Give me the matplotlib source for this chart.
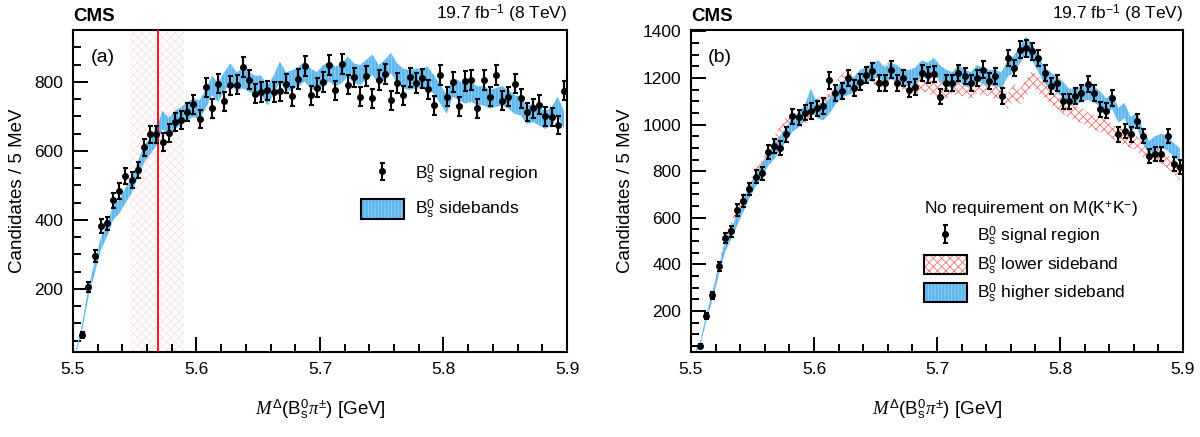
import numpy as np
import matplotlib
matplotlib.use("Agg")
import matplotlib.pyplot as plt
from matplotlib.patches import Patch
from matplotlib.ticker import MultipleLocator

plt.rcParams['font.family'] = ['Liberation Sans', 'DejaVu Sans']
plt.rcParams['mathtext.fontset'] = 'custom'
plt.rcParams['mathtext.rm'] = 'Liberation Sans'
plt.rcParams['mathtext.it'] = 'Liberation Serif:italic'
plt.rcParams['mathtext.bf'] = 'Liberation Sans:bold'
plt.rcParams['hatch.linewidth'] = 0.6

# bin centres, 5 MeV bins from 5.5 to 5.9 GeV
edges = np.arange(5.5, 5.9001, 0.005)
centres = 0.5 * (edges[1:] + edges[:-1])

# (a) signal region, first bin empty
sig_a = [66, 206, 296, 382, 390, 457, 484, 527, 515, 544,
         610, 648, 648, 626, 652, 684, 689, 713, 735, 692,
         784, 723, 795, 744, 790, 792, 842, 807, 766, 771,
         776, 771, 773, 795, 758, 808, 846, 761, 783,
         800, 848, 776, 853, 792, 813, 757, 818, 752, 805,
         822, 747, 797, 761, 813, 797, 810, 779, 732, 819,
         757, 800, 729, 802, 805, 723, 805, 757, 821, 745,
         757, 795, 752, 713, 723, 734, 700, 698, 674, 774]
# (a) sidebands
sb_a = [20, 90, 190, 260, 330, 370, 420, 440, 470, 500,
        545, 590, 615, 640, 690, 670, 690, 700, 715, 725,
        720, 750, 790, 770, 800, 825, 800, 810, 800, 790,
        790, 760, 790, 830, 800, 805, 815, 830, 810, 800,
        820, 830, 815, 825, 845, 825, 820, 835, 850, 820,
        835, 855, 825, 810, 805, 810, 810, 815, 790, 765,
        735, 785, 775, 765, 770, 760, 760, 750, 755, 760,
        750, 735, 730, 705, 710, 700, 690, 700, 730, 690]

# (b) signal region
sig_b = [50, 179, 267, 391, 513, 542, 633, 673, 723, 776,
         790, 884, 908, 901, 958, 1036, 1032, 1050, 1058, 1069,
         1079, 1189, 1136, 1143, 1200, 1157, 1181, 1214, 1228, 1179,
         1179, 1236, 1179, 1200, 1150, 1160, 1221, 1214, 1217, 1120,
         1179, 1179, 1221, 1207, 1179, 1200, 1236, 1186, 1207, 1122,
         1285, 1243, 1321, 1328, 1314, 1285, 1221, 1164, 1179, 1100,
         1100, 1122, 1136, 1172, 1136, 1065, 1060, 1115, 958, 972,
         958, 1015, 951, 865, 875, 875, 951, 830, 818]
# (b) higher sideband
hi_b = [15, 60, 170, 265, 370, 470, 530, 590, 650, 710,
        760, 800, 850, 880, 920, 960, 1000, 1020, 1050, 1120,
        1060, 1050, 1080, 1120, 1150, 1160, 1170, 1200, 1210, 1230,
        1240, 1210, 1230, 1220, 1200, 1200, 1210, 1240, 1230, 1250,
        1220, 1200, 1190, 1220, 1200, 1190, 1220, 1210, 1200, 1200,
        1190, 1240, 1260, 1300, 1340, 1310, 1260, 1210, 1190, 1170,
        1150, 1120, 1120, 1130, 1140, 1130, 1110, 1080, 1100, 1040,
        1060, 1000, 1020, 950, 900, 920, 930, 920, 890, 870]
# (b) lower sideband
lo_b = [15, 60, 170, 270, 380, 490, 560, 620, 680, 730,
        780, 820, 870, 920, 960, 1000, 1020, 1010, 1030, 1060,
        1080, 1090, 1100, 1150, 1180, 1200, 1180, 1200, 1220, 1210,
        1200, 1220, 1240, 1200, 1180, 1190, 1160, 1180, 1170, 1150,
        1160, 1140, 1170, 1150, 1160, 1140, 1170, 1150, 1160, 1140,
        1150, 1100, 1140, 1120, 1160, 1200, 1170, 1150, 1120, 1100,
        1080, 1060, 1050, 1040, 1020, 1010, 1000, 990, 970, 960,
        940, 930, 920, 890, 880, 870, 860, 840, 820, 790]

blue_face = '#5cb6ec'
blue_hatch = '#9ad4f6'
red_hatch = '#f07070'

fig = plt.figure(figsize=(12, 4.37), dpi=100)
ax1 = fig.add_axes([0.0608, 0.195, 0.4117, 0.736])
ax2 = fig.add_axes([0.5758, 0.195, 0.41, 0.736])


def band(ax, vals, face, hcol, hatch):
    v = np.array(vals, dtype=float)
    err = np.sqrt(v)
    ax.fill_between(centres, v - err, v + err, facecolor=face, edgecolor=hcol,
                    hatch=hatch, linewidth=0, zorder=2)


def style(ax, ymin, ymax):
    ax.set_xlim(5.5, 5.9)
    ax.set_ylim(ymin, ymax)
    ax.xaxis.set_major_locator(MultipleLocator(0.1))
    ax.xaxis.set_minor_locator(MultipleLocator(0.02))
    ax.yaxis.set_major_locator(MultipleLocator(200))
    ax.yaxis.set_minor_locator(MultipleLocator(50))
    ax.tick_params(which='both', direction='in', top=False, right=False, labelsize=12.5, width=1.4)
    ax.tick_params(which='major', length=11, pad=7)
    ax.tick_params(which='minor', length=5.5)
    for s in ax.spines.values():
        s.set_linewidth(1.5)
    ax.set_ylabel('Candidates / 5 MeV', fontsize=13.5, labelpad=6)
    ax.set_xlabel(r'$M^{\Delta}$(B$_\mathrm{s}^{0}\pi^{\pm}$) [GeV]', fontsize=13.5, labelpad=15)
    ax.text(0.0, 1.015, 'CMS', transform=ax.transAxes, fontsize=13.5, fontweight='bold',
            ha='left', va='bottom')
    ax.text(1.0, 1.015, r'19.7 fb$^{-1}$ (8 TeV)', transform=ax.transAxes, fontsize=12.5,
            ha='right', va='bottom')


# ---- panel (a)
ax1.axvspan(5.546, 5.590, facecolor='none', edgecolor='#fbe2e2', hatch='xxxx', linewidth=0, zorder=1)
band(ax1, sb_a, blue_face, blue_hatch, '|||||')
ax1.axvline(5.5686, color='red', lw=1.3, zorder=3)
sa = np.array(sig_a, dtype=float)
h_sig = ax1.errorbar(centres[1:], sa, yerr=np.sqrt(sa), fmt='o', color='black', ms=4,
                     elinewidth=1.5, capsize=1.8, capthick=1.5, zorder=4)
style(ax1, 18, 950)
ax1.text(0.035, 0.94, '(a)', transform=ax1.transAxes, fontsize=14, ha='left', va='top')

blue_handle = (Patch(facecolor=blue_face, edgecolor=blue_hatch, hatch='|||||', lw=0),
               Patch(fill=False, edgecolor='black', lw=1.5))
ax1.legend([h_sig, blue_handle],
           [r'B$_\mathrm{s}^{0}$ signal region', r'B$_\mathrm{s}^{0}$ sidebands'],
           loc='upper left', bbox_to_anchor=(0.565, 0.615), frameon=False, fontsize=12.5,
           handlelength=2.5, handleheight=1.4, labelspacing=0.7, borderpad=0, handletextpad=0.6)

# ---- panel (b)
band(ax2, lo_b, 'none', red_hatch, 'xxxx')
band(ax2, hi_b, blue_face, blue_hatch, '|||||')
sb = np.array(sig_b, dtype=float)
h_sig2 = ax2.errorbar(centres[1:], sb, yerr=np.sqrt(sb), fmt='o', color='black', ms=4,
                      elinewidth=1.5, capsize=1.8, capthick=1.5, zorder=4)
style(ax2, 25, 1405)
ax2.text(0.035, 0.94, '(b)', transform=ax2.transAxes, fontsize=14, ha='left', va='top')

red_handle = (Patch(facecolor='white', edgecolor=red_hatch, hatch='xxxx', lw=0),
              Patch(fill=False, edgecolor='black', lw=1.5))
leg = ax2.legend([h_sig2, red_handle, blue_handle],
                 [r'B$_\mathrm{s}^{0}$ signal region', r'B$_\mathrm{s}^{0}$ lower sideband',
                  r'B$_\mathrm{s}^{0}$ higher sideband'],
                 title=r'No requirement on M(K$^{+}$K$^{-}$)', title_fontsize=12.5,
                 loc='upper left', bbox_to_anchor=(0.455, 0.50), frameon=False, fontsize=12.5,
                 handlelength=2.5, handleheight=1.3, labelspacing=0.3, borderpad=0,
                 handletextpad=0.6, alignment='left')

fig.savefig('out.png', dpi=100)
